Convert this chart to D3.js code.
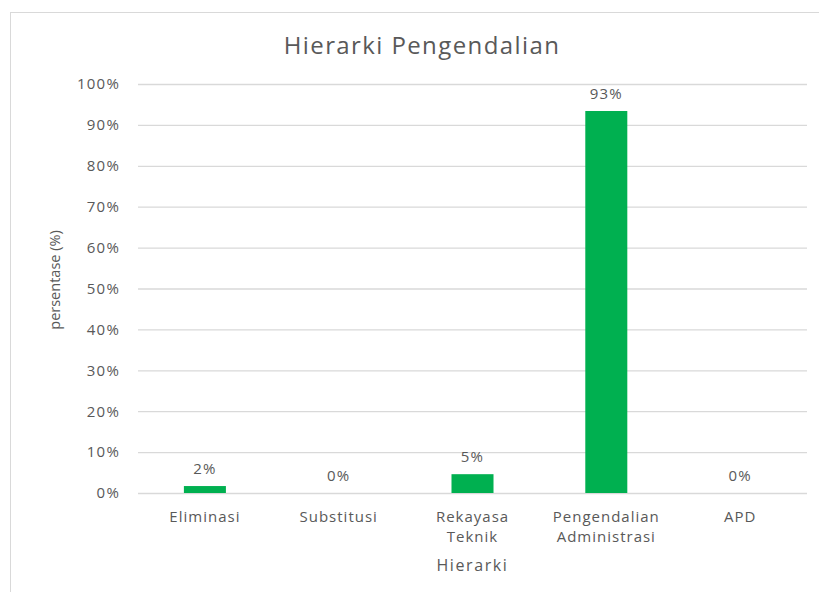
<!DOCTYPE html>
<html>
<head>
<meta charset="utf-8">
<script src="https://cdn.jsdelivr.net/npm/d3@7"></script>
<style>
  body { margin: 0; background: #fff; }
  text { fill: #595959; font-family: "Open Sans", sans-serif; }
</style>
</head>
<body>
<div class="chart"></div>
<script>
// data
const categories = ['Eliminasi', 'Substitusi', 'Rekayasa Teknik', 'Pengendalian Administrasi', 'APD'];
const values = [1.7, 0, 4.6, 93.4, 0];
const yTicks = [0, 10, 20, 30, 40, 50, 60, 70, 80, 90, 100];

const W = 819;
const H = 592;
const margin = { top: 84, right: 12, bottom: 99, left: 138 };
const width = W - margin.left - margin.right;
const height = H - margin.top - margin.bottom;

const svg = d3.select('.chart').append('svg')
    .attr('width', W)
    .attr('height', H);

// outer chart border (runs off the right / bottom edge)
svg.append('rect')
  .attr('x', 10.5)
  .attr('y', 12.5)
  .attr('width', 840)
  .attr('height', 620)
  .attr('fill', 'none')
  .attr('stroke', '#d9d9d9');

svg.append('text')
  .attr('x', 422)
  .attr('y', 54)
  .attr('text-anchor', 'middle')
  .style('font-size', '24px')
  .style('letter-spacing', '1.4px')
  .text('Hierarki Pengendalian');

const g = svg.append('g')
  .attr('transform', `translate(${margin.left}, ${margin.top})`);

const x = d3.scaleBand().domain(categories).range([0, width]).paddingInner(0.686).paddingOuter(0.343);
const y = d3.scaleLinear().domain([0, 100]).range([height, 0]);

// gridlines
g.append('g')
    .call(d3.axisLeft(y).tickValues(yTicks).tickSize(-width).tickFormat(''))
    .call(ax => ax.select('.domain').remove())
    .call(ax => ax.selectAll('line').attr('stroke', '#d9d9d9').attr('stroke-width', 1.3));

// y tick labels
g.append('g')
    .call(d3.axisLeft(y).tickValues(yTicks).tickSize(0).tickPadding(18).tickFormat(d => `${d}%`))
    .call(ax => ax.select('.domain').remove())
    .call(ax => ax.selectAll('text').style('font-size', '15px').attr('fill', '#595959')
      .style('letter-spacing', '1.2px')
      .style('font-family', '"Open Sans", sans-serif'));

g.selectAll('.bar')
    .data(values)
  .enter().append('rect')
    .attr('class', 'bar')
    .attr('x', (d, i) => x(categories[i]))
    .attr('width', x.bandwidth())
    .attr('y', d => y(d))
    .attr('height', d => height - y(d))
    .attr('fill', '#00b050');

g.selectAll('.lbl')
    .data(values)
  .enter().append('text')
    .attr('class', 'lbl')
    .attr('x', (d, i) => x(categories[i]) + x.bandwidth() / 2)
    .attr('y', d => y(d) - 12)
    .attr('text-anchor', 'middle')
    .style('font-size', '15px')
    .style('letter-spacing', '1.2px')
    .text(d => `${Math.round(d)}%`);

// category labels, wrapped on spaces
const cat = g.selectAll('.cat')
    .data(categories)
  .enter().append('text')
    .attr('class', 'cat')
    .attr('text-anchor', 'middle')
    .attr('transform', d => `translate(${x(d) + x.bandwidth() / 2}, ${height + 29})`)
    .style('font-size', '15px')
    .style('letter-spacing', '1px');

cat.each(function (d) {
  d.split(' ').forEach((w, i) => {
    d3.select(this).append('tspan')
      .attr('x', 0)
      .attr('y', i * 20)
      .text(w);
  });
});

svg.append('text')
  .attr('x', margin.left + width / 2)
  .attr('y', 571)
  .attr('text-anchor', 'middle')
  .style('font-size', '16px')
  .style('letter-spacing', '1.6px')
  .text('Hierarki');

svg.append('text')
  .attr('transform', 'translate(60, 280) rotate(-90)')
  .attr('text-anchor', 'middle')
  .style('font-size', '14.5px')
  .text('persentase (%)');
</script>
</body>
</html>
